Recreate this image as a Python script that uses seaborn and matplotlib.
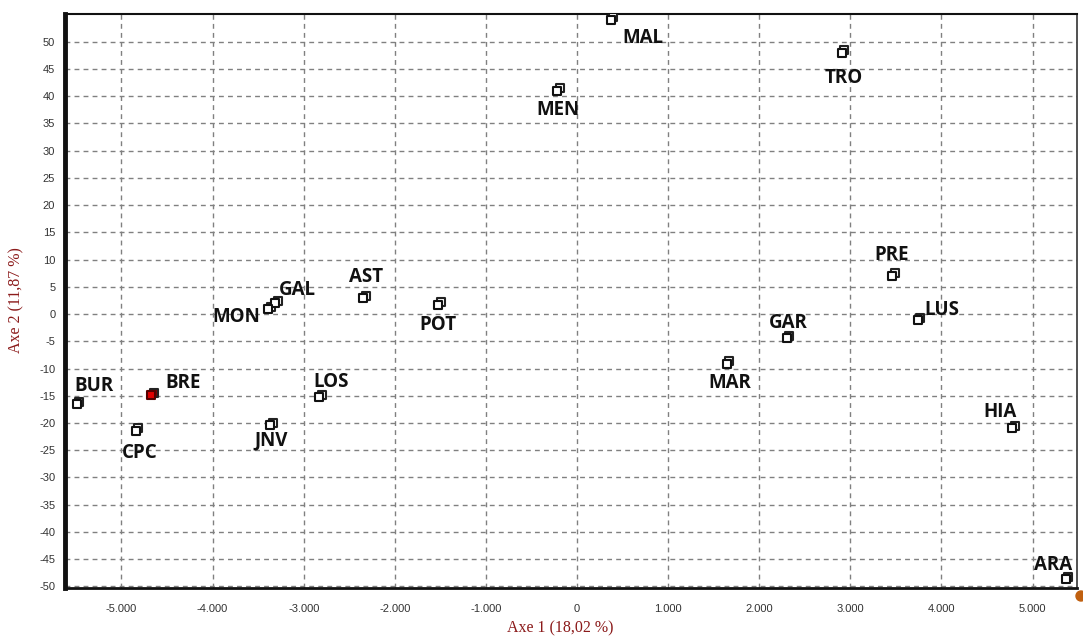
import numpy as np
import pandas as pd
import matplotlib
matplotlib.use("Agg")
import matplotlib.pyplot as plt
import matplotlib.transforms as mtransforms
import matplotlib.patches as mpatches
from matplotlib.ticker import FixedLocator, MultipleLocator, FuncFormatter
import seaborn as sns

# ---------------- data ----------------
labels = ["MAL", "TRO", "MEN", "PRE", "LUS", "GAR", "MAR", "HIA", "ARA",
          "POT", "AST", "GAL", "MON", "LOS", "JNV", "BRE", "CPC", "BUR"]
axe1 = [373, 2906, -219, 3458, 3739, 2303, 1645, 4780, 5362,
        -1524, -2346, -3310, -3388, -2829, -3366, -4671, -4846, -5493]
axe2 = [54.0, 48.0, 41.0, 7.0, -1.1, -4.4, -9.1, -21.0, -48.7,
        1.7, 2.9, 2.0, 0.9, -15.3, -20.4, -14.9, -21.4, -16.6]
highlight = ["BRE"]
x_ticks = list(range(-5000, 5001, 1000))
y_ticks = list(range(-50, 51, 5))
x_title = "Axe 1 (18,02 %)"
y_title = "Axe 2 (11,87 %)"

# label offsets (pixels) – layout only
label_offsets = {
    "MAL": (32, -18), "TRO": (2, -25), "MEN": (1, -19), "PRE": (0, 21),
    "LUS": (24, 10), "GAR": (1, 15), "MAR": (3, -19), "HIA": (-12, 16),
    "ARA": (-12, 14), "POT": (0, -20), "AST": (3, 21), "GAL": (22, 13),
    "MON": (-32, -8), "LOS": (12, 15), "JNV": (1, -15), "BRE": (32, 12),
    "CPC": (4, -22), "BUR": (17, 18),
}

df = pd.DataFrame({"label": labels, "axe1": axe1, "axe2": axe2})
df["hl"] = df["label"].isin(highlight)

sns.set_style("white")
plt.rcParams["font.family"] = ["DejaVu Sans"]

W, H = 1083, 639
fig = plt.figure(figsize=(W / 100, H / 100), dpi=100)
L, R, T, B = 65, 1077, 14, 588
ax = fig.add_axes([L / W, 1 - B / H, (R - L) / W, (B - T) / H])

ax.set_xlim(-5620, 5488)
ax.set_ylim(-50.3, 55.1)

# grid
for xv in x_ticks:
    ax.axvline(xv, color="#808080", lw=1.0, ls=(0, (3.5, 3)), zorder=0)
for yv in y_ticks:
    ax.axhline(yv, color="#808080", lw=1.0, ls=(0, (3.5, 3)), zorder=0)

# 3D-like square markers: back square offset up-right
off = mtransforms.ScaledTranslation(2.5 / 100, 2.5 / 100, fig.dpi_scale_trans)
normal = df[~df["hl"]]
hl = df[df["hl"]]
ax.scatter(normal["axe1"], normal["axe2"], marker="s", s=34, facecolor="white",
           edgecolor="#222222", linewidth=1.5, transform=ax.transData + off, zorder=3)
ax.scatter(hl["axe1"], hl["axe2"], marker="s", s=34, facecolor="#7a0000",
           edgecolor="#222222", linewidth=1.5, transform=ax.transData + off, zorder=3)
sns.scatterplot(data=normal, x="axe1", y="axe2", marker="s", s=34, color="white",
                edgecolor="#111111", linewidth=1.5, ax=ax, zorder=4, legend=False)
sns.scatterplot(data=hl, x="axe1", y="axe2", marker="s", s=34, color="#e00000",
                edgecolor="#550000", linewidth=1.5, ax=ax, zorder=4, legend=False)

for _, row in df.iterrows():
    dx, dy = label_offsets[row["label"]]
    ax.annotate(row["label"], (row["axe1"], row["axe2"]), xytext=(dx, dy),
                textcoords="offset pixels", ha="center", va="center",
                fontsize=13.5, fontweight="bold", family=["Open Sans", "DejaVu Sans"],
                color="#111111", zorder=5, annotation_clip=False)

# ticks
ax.xaxis.set_major_locator(FixedLocator(x_ticks))
ax.xaxis.set_minor_locator(MultipleLocator(200))
ax.yaxis.set_major_locator(FixedLocator(y_ticks))
ax.xaxis.set_major_formatter(FuncFormatter(
    lambda v, p: "0" if v == 0 else f"{int(v):,}".replace(",", ".")))
ax.yaxis.set_major_formatter(FuncFormatter(lambda v, p: f"{int(v)}"))
ax.tick_params(axis="x", which="major", direction="inout", length=7, width=1,
               labelsize=8, labelcolor="#333333", pad=8)
ax.tick_params(axis="x", which="minor", direction="out", length=3, width=0.8)
ax.tick_params(axis="y", which="major", direction="out", length=4, width=1,
               labelsize=8, labelcolor="#333333", pad=3)
for lab in ax.get_xticklabels() + ax.get_yticklabels():
    lab.set_family(["Liberation Sans", "DejaVu Sans"])

ax.set_xlabel("")
ax.set_ylabel("")

# spines
ax.spines["left"].set_linewidth(3.5)
ax.spines["left"].set_color("#111111")
ax.spines["bottom"].set_linewidth(2.0)
ax.spines["bottom"].set_color("#111111")
ax.spines["top"].set_linewidth(1.5)
ax.spines["top"].set_color("#111111")
ax.spines["right"].set_linewidth(1.2)
ax.spines["right"].set_color("#333333")

# axis titles
fig.text(560 / W, 1 - 628 / H, x_title, ha="center", va="center", fontsize=11.5,
         color="#8b1a1a", family=["Liberation Serif", "DejaVu Serif"])
fig.text(16 / W, 1 - 300 / H, y_title, ha="center", va="center", fontsize=11.5,
         rotation=90, color="#8b1a1a", family=["Liberation Serif", "DejaVu Serif"])

# small orange mark at the lower right corner
fig.patches.append(mpatches.Ellipse((1081 / W, 1 - 596 / H), 10 / W, 10 / H,
                                    transform=fig.transFigure, color="#c06010"))

fig.savefig("out.png", dpi=100)
